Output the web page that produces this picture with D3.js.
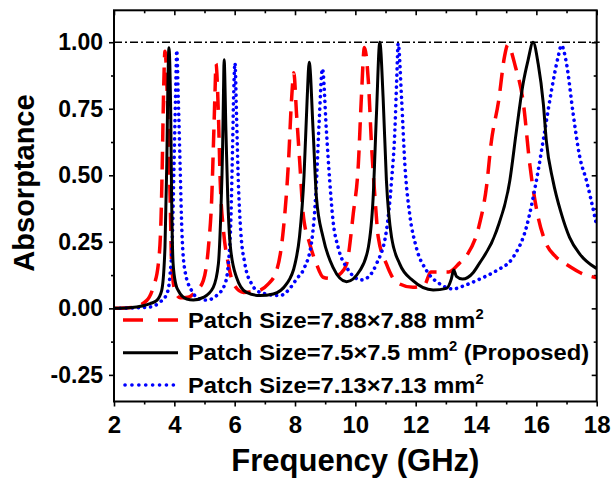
<!DOCTYPE html>
<html><head><meta charset="utf-8">
<script src="https://cdn.jsdelivr.net/npm/d3@7"></script>
<style>html,body{margin:0;padding:0;background:#fff;}svg{display:block;}</style>
</head><body>
<script>
// ---- data ----
const redFreq = [2.0,2.6,3.08,3.3,3.47,3.56,3.6,3.64,3.69,3.8,3.86,3.91,4.02,4.19,4.45,4.74,4.96,5.13,5.24,5.31,5.35,5.38,5.46,5.52,5.63,5.79,5.96,6.29,6.75,7.1,7.39,7.61,7.78,7.89,7.96,8.05,8.16,8.27,8.49,8.71,8.93,9.2,9.5,9.71,9.93,10.1,10.2,10.3,10.43,10.54,10.65,10.76,11.03,11.37,11.91,12.3,12.5,13.1,13.45,13.7,14.1,14.35,14.5,14.75,14.95,15.05,15.31,15.57,15.78,16.06,16.3,16.66,17.0,17.55,18.0];
const redAbs  = [0.0,0.003,0.029,0.079,0.167,0.342,0.543,0.793,0.966,0.668,0.417,0.167,0.067,0.04,0.042,0.067,0.104,0.23,0.417,0.668,0.818,0.919,0.731,0.48,0.292,0.167,0.092,0.06,0.065,0.09,0.142,0.292,0.543,0.793,0.885,0.731,0.543,0.355,0.242,0.167,0.117,0.112,0.13,0.167,0.355,0.543,0.793,0.98,0.856,0.605,0.417,0.267,0.167,0.098,0.079,0.09,0.137,0.137,0.17,0.2,0.31,0.46,0.62,0.78,0.95,0.99,0.906,0.77,0.543,0.342,0.25,0.192,0.165,0.129,0.115];

const blackFreq = [2.0,2.5,2.97,3.2,3.41,3.58,3.69,3.75,3.78,3.82,3.88,3.91,3.96,4.05,4.13,4.41,4.63,4.96,5.29,5.46,5.54,5.6,5.63,5.65,5.71,5.77,5.86,6.06,6.39,6.84,7.28,7.72,8.0,8.15,8.3,8.4,8.47,8.6,8.71,8.93,9.26,9.71,10.15,10.43,10.59,10.7,10.81,10.92,11.03,11.2,11.47,11.91,12.58,13.02,13.18,13.26,13.35,13.55,13.91,14.1,14.68,15.12,15.34,15.56,15.72,15.89,16.06,16.23,16.33,16.55,16.83,17.1,17.44,17.94,18.0];
const blackAbs  = [0.0,0.002,0.01,0.018,0.029,0.067,0.23,0.543,0.793,0.979,0.731,0.417,0.167,0.09,0.067,0.035,0.031,0.041,0.079,0.167,0.355,0.605,0.818,0.934,0.668,0.417,0.229,0.117,0.06,0.048,0.054,0.092,0.167,0.27,0.5,0.78,0.925,0.668,0.417,0.267,0.154,0.1,0.142,0.229,0.417,0.731,1.0,0.793,0.48,0.267,0.167,0.104,0.069,0.075,0.11,0.144,0.12,0.11,0.135,0.167,0.292,0.48,0.668,0.844,0.93,1.0,0.919,0.77,0.63,0.48,0.355,0.267,0.204,0.154,0.15];

const blueFreq = [2.0,2.7,3.19,3.52,3.75,3.85,3.94,3.99,4.04,4.08,4.13,4.19,4.25,4.35,4.57,4.85,5.07,5.4,5.68,5.79,5.88,5.93,5.97,6.01,6.06,6.12,6.2,6.34,6.56,6.84,7.5,7.83,8.05,8.3,8.55,8.7,8.8,8.91,9.04,9.15,9.26,9.43,9.71,10.2,10.45,10.7,11.03,11.2,11.31,11.37,11.42,11.53,11.64,11.8,12.02,12.36,12.8,13.24,13.6,14.12,14.68,15.23,15.67,16.0,16.28,16.5,16.72,16.83,17.0,17.22,17.44,17.66,17.94,18.0];
const blueAbs  = [0.0,0.002,0.005,0.023,0.054,0.117,0.292,0.543,0.793,0.969,0.793,0.543,0.292,0.142,0.067,0.035,0.031,0.048,0.092,0.167,0.355,0.605,0.818,0.922,0.731,0.48,0.292,0.167,0.092,0.06,0.048,0.075,0.11,0.15,0.25,0.45,0.7,0.9,0.668,0.48,0.33,0.229,0.154,0.107,0.12,0.167,0.292,0.48,0.668,0.856,0.995,0.793,0.543,0.355,0.229,0.142,0.092,0.073,0.085,0.11,0.142,0.192,0.305,0.48,0.668,0.818,0.944,0.988,0.919,0.731,0.568,0.48,0.342,0.31];

const xTicks = [2,4,6,8,10,12,14,16,18];
const xMinorTicks = [3,5,7,9,11,13,15,17];
const yTicks = [-0.25,0,0.25,0.5,0.75,1.0];
const yMinorTicks = [-0.125,0.125,0.375,0.625,0.875];
const refLevel = [1.0];

const seriesNames = ["Patch Size=7.88×7.88 mm", "Patch Size=7.5×7.5 mm", "Patch Size=7.13×7.13 mm"];
const seriesSuffix = ["", " (Proposed)", ""];
const seriesColors = ["#ff0000", "#000000", "#0000ff"];

// ---- drawing ----
const W = 611, H = 479;
const L = 114, R = 596.7, T = 10.3, B = 401.5;
const FONT = "'Liberation Sans', Arial, Helvetica, sans-serif";

const svg = d3.select("body").append("svg").attr("width", W).attr("height", H);
const x = d3.scaleLinear().domain([2,18]).range([L,R]);
const y = d3.scaleLinear().domain([-0.35,1.12]).range([B,T]);

svg.append("defs").append("clipPath").attr("id","clip")
  .append("rect").attr("x",L).attr("y",T).attr("width",R-L).attr("height",B-T);

function styleAxis(g, showLabels, size){
  g.select(".domain").remove();
  g.selectAll(".tick line").attr("stroke","#000").attr("stroke-width",1.6);
  g.selectAll(".tick text").attr("font-family",FONT).attr("font-weight","bold")
    .attr("font-size",size).attr("fill","#000");
  if(!showLabels) g.selectAll(".tick text").remove();
}
const yFmt = d => d3.format(".2f")(d).replace("\u2212","-");

// bottom
svg.append("g").attr("transform",`translate(0,${B})`)
  .call(d3.axisBottom(x).tickValues(xTicks).tickSize(5).tickSizeOuter(0).tickPadding(9).tickFormat(d3.format("d")))
  .call(g=>styleAxis(g,true,24));
svg.append("g").attr("transform",`translate(0,${B})`)
  .call(d3.axisBottom(x).tickValues(xMinorTicks).tickSize(3).tickSizeOuter(0))
  .call(g=>styleAxis(g,false,0));
// top (inward)
svg.append("g").attr("transform",`translate(0,${T})`)
  .call(d3.axisTop(x).tickValues(xTicks).tickSize(-5).tickSizeOuter(0))
  .call(g=>styleAxis(g,false,0));
svg.append("g").attr("transform",`translate(0,${T})`)
  .call(d3.axisTop(x).tickValues(xMinorTicks).tickSize(-3).tickSizeOuter(0))
  .call(g=>styleAxis(g,false,0));
// left
svg.append("g").attr("transform",`translate(${L},0)`)
  .call(d3.axisLeft(y).tickValues(yTicks).tickSize(5).tickSizeOuter(0).tickPadding(6).tickFormat(yFmt))
  .call(g=>styleAxis(g,true,23));
svg.append("g").attr("transform",`translate(${L},0)`)
  .call(d3.axisLeft(y).tickValues(yMinorTicks).tickSize(3).tickSizeOuter(0))
  .call(g=>styleAxis(g,false,0));
// right (inward)
svg.append("g").attr("transform",`translate(${R},0)`)
  .call(d3.axisRight(y).tickValues(yTicks).tickSize(-5).tickSizeOuter(0))
  .call(g=>styleAxis(g,false,0));
svg.append("g").attr("transform",`translate(${R},0)`)
  .call(d3.axisRight(y).tickValues(yMinorTicks).tickSize(-3).tickSizeOuter(0))
  .call(g=>styleAxis(g,false,0));

// reference line at 1.00
svg.selectAll(".ref").data(refLevel).enter().append("line")
  .attr("x1",L).attr("x2",R+3).attr("y1",d=>y(d)).attr("y2",d=>y(d))
  .attr("stroke","#000").attr("stroke-width",1.5).attr("stroke-dasharray","8,3,2,3");

// curves
const line = d3.line().x(d=>x(d[0])).y(d=>y(d[1])).curve(d3.curveMonotoneX);
const plot = svg.append("g").attr("clip-path","url(#clip)");
const zip = (a,b)=>a.map((v,i)=>[v,b[i]]);
plot.append("path").datum(zip(redFreq,redAbs)).attr("d",line)
  .attr("fill","none").attr("stroke",seriesColors[0]).attr("stroke-width",3.5).attr("stroke-dasharray","18,10");
plot.append("path").datum(zip(blueFreq,blueAbs)).attr("d",line)
  .attr("fill","none").attr("stroke",seriesColors[2]).attr("stroke-width",3.6)
  .attr("stroke-linecap","round").attr("stroke-dasharray","0.1,6");
plot.append("path").datum(zip(blackFreq,blackAbs)).attr("d",line)
  .attr("fill","none").attr("stroke",seriesColors[1]).attr("stroke-width",3);

// frame
svg.append("rect").attr("x",L).attr("y",T).attr("width",R-L).attr("height",B-T)
  .attr("fill","none").attr("stroke","#000").attr("stroke-width",2);

// legend
const legY = [320, 352.7, 385];
const legDash = ["20,15", null, "0.1,6.8"];
const lg = svg.append("g");
seriesNames.forEach((name,i)=>{
  const ln = lg.append("line").attr("x1",123).attr("x2",178).attr("y1",legY[i]).attr("y2",legY[i])
    .attr("stroke",seriesColors[i]).attr("stroke-width", i===0?3.5:(i===2?3.6:3));
  if(legDash[i]) ln.attr("stroke-dasharray",legDash[i]);
  if(i===2) ln.attr("stroke-linecap","round").attr("x1",125);
  const t = lg.append("text").attr("transform",`translate(188,${legY[i]+7.5}) scale(1.055,1)`)
    .attr("font-family",FONT).attr("font-weight","bold").attr("font-size",22.5).attr("fill","#000");
  t.append("tspan").text(name);
  t.append("tspan").attr("dy",-9).attr("font-size",14).text("2");
  if(seriesSuffix[i]) t.append("tspan").attr("dy",9).text(seriesSuffix[i]);
});

// axis titles
svg.append("text").attr("x",(L+R)/2).attr("y",471).attr("text-anchor","middle")
  .attr("font-family",FONT).attr("font-weight","bold").attr("font-size",31).text("Frequency (GHz)");
svg.append("text").attr("transform","translate(34,183) rotate(-90)").attr("text-anchor","middle")
  .attr("font-family",FONT).attr("font-weight","bold").attr("font-size",29).text("Absorptance");
</script>
</body></html>
